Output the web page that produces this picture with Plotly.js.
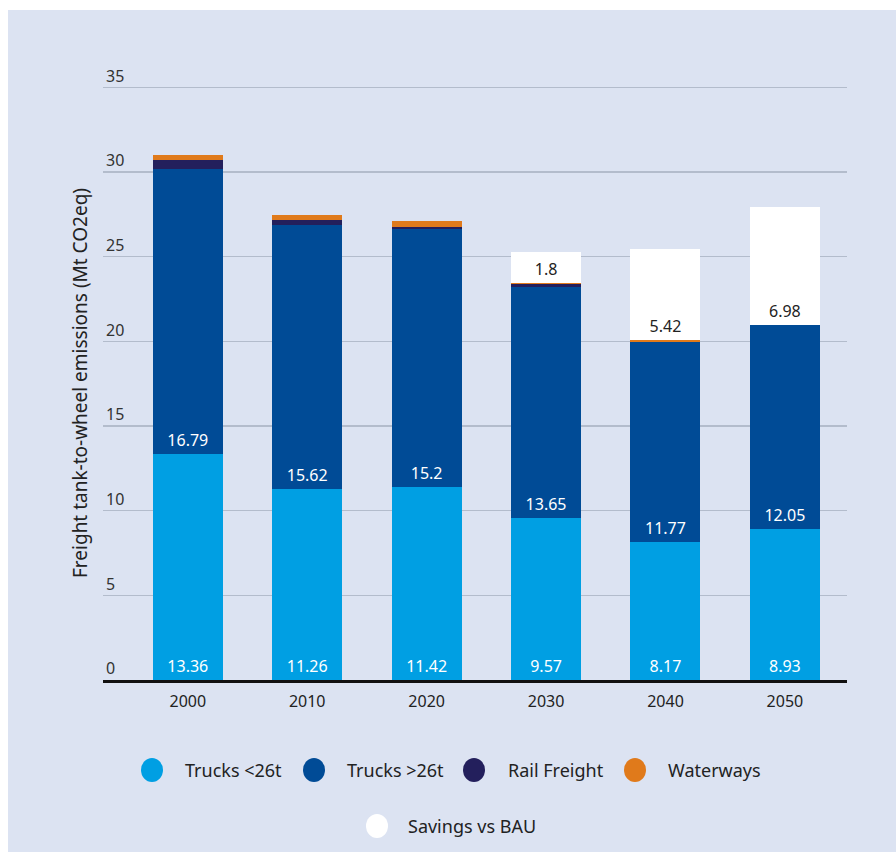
<!DOCTYPE html>
<html>
<head>
<meta charset="utf-8">
<script src="https://cdn.plot.ly/plotly-3.0.1.min.js"></script>
<style>
  html, body { margin: 0; padding: 0; background: #ffffff; width: 896px; height: 852px; overflow: hidden; }
  #chart { position: absolute; left: 8px; top: 10px; width: 888px; height: 842px; }
</style>
</head>
<body>
<div id="chart"></div>
<script>
// ---- data ----
const years = ["2000", "2010", "2020", "2030", "2040", "2050"];
const trucksSmall = [13.36, 11.26, 11.42, 9.57, 8.17, 8.93];
const trucksLarge = [16.79, 15.62, 15.2, 13.65, 11.77, 12.05];
const railFreight = [0.57, 0.3, 0.16, 0.15, 0.04, 0];
const waterways = [0.28, 0.27, 0.3, 0.1, 0.07, 0];
const savingsBAU = [null, null, null, 1.8, 5.42, 6.98];
const seriesNames = ["Trucks <26t", "Trucks >26t", "Rail Freight", "Waterways", "Savings vs BAU"];
const yTickVals = [0, 5, 10, 15, 20, 25, 30, 35];
const yTitle = "Freight tank-to-wheel emissions (Mt CO2eq)";

// ---- style ----
const colors = ["#009fe3", "#004b96", "#231f5c", "#e07a1b", "#ffffff"];
const bg = "#dce3f2";
const FONT = "'Noto Sans', 'Open Sans', sans-serif";

// geometry (div pixels)
const W = 888, H = 842;
const M = { l: 95, r: 49, t: 35, b: 172 };
const plotW = W - M.l - M.r, plotH = H - M.t - M.b;
const px = x => (x - M.l) / plotW;
const py = y => (H - M.b - y) / plotH;

function barTrace(i, vals, textColor, showText) {
  return {
    type: "bar",
    name: seriesNames[i],
    x: years,
    y: vals,
    marker: { color: colors[i], line: { width: 0 } },
    text: showText ? vals.map(v => (v === null ? "" : String(v))) : undefined,
    textposition: showText ? "inside" : "none",
    insidetextanchor: "start",
    textfont: { family: FONT, size: 16, color: textColor },
    constraintext: "none",
    hoverinfo: "skip",
    showlegend: false
  };
}

const data = [
  barTrace(0, trucksSmall, "#ffffff", true),
  barTrace(1, trucksLarge, "#ffffff", true),
  barTrace(2, railFreight, "#ffffff", false),
  barTrace(3, waterways, "#ffffff", false),
  barTrace(4, savingsBAU, "#222222", true)
];

// manual legend with round symbols (page coords -> div coords)
const legendPos = [
  { cx: 152, cy: 770, tx: 183 },
  { cx: 314, cy: 770, tx: 345 },
  { cx: 474, cy: 770, tx: 506 },
  { cx: 635, cy: 770, tx: 666 },
  { cx: 377, cy: 826, tx: 406 }
];
const shapes = [];
const annotations = [];
legendPos.forEach((p, i) => {
  const cx = p.cx - 8, cy = p.cy - 10, r = 11;
  shapes.push({
    type: "circle", xref: "paper", yref: "paper",
    x0: px(cx - r), x1: px(cx + r), y0: py(cy + r + 1), y1: py(cy - r - 1),
    fillcolor: colors[i], line: { width: 0 }
  });
  annotations.push({
    xref: "paper", yref: "paper", x: px(p.tx - 8), y: py(cy),
    xanchor: "left", yanchor: "middle", showarrow: false,
    text: seriesNames[i], font: { family: FONT, size: 18, color: "#222222" }
  });
});
// y-axis title (centered on the 0..35 gridline span)
annotations.push({
  xref: "paper", yref: "paper", x: px(72), y: py(373),
  xanchor: "center", yanchor: "middle", textangle: -90, showarrow: false,
  text: yTitle, font: { family: FONT, size: 19, color: "#222222" }
});

const layout = {
  width: W, height: H,
  margin: M,
  paper_bgcolor: bg,
  plot_bgcolor: bg,
  barmode: "stack",
  bargap: 0.414,
  font: { family: FONT, color: "#222222" },
  showlegend: false,
  xaxis: {
    type: "category",
    range: [-0.71, 5.52],
    showgrid: false,
    showline: true,
    linecolor: "#111111",
    linewidth: 2.5,
    ticks: "",
    ticklabelstandoff: 5,
    tickfont: { family: FONT, size: 16, color: "#222222" },
    fixedrange: true
  },
  yaxis: {
    range: [0, 37.5],
    tickvals: yTickVals,
    ticktext: yTickVals.map(String),
    ticklabelposition: "inside top",
    showgrid: true,
    gridcolor: "#b3bccc",
    gridwidth: 1.5,
    zeroline: false,
    showline: false,
    ticks: "",
    tickfont: { family: FONT, size: 16, color: "#333333" },
    fixedrange: true
  },
  shapes: shapes,
  annotations: annotations
};

Plotly.newPlot("chart", data, layout, { displayModeBar: false, staticPlot: true });
</script>
</body>
</html>
